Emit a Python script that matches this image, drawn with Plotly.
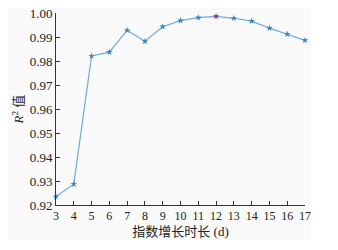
import plotly.graph_objects as go

days = [3, 4, 5, 6, 7, 8, 9, 10, 11, 12, 13, 14, 15, 16, 17]
r2 = [0.9235, 0.9287, 0.9821, 0.9837, 0.9928, 0.9882, 0.9943, 0.9968, 0.9981, 0.9986, 0.9978, 0.9966, 0.9937, 0.9912, 0.9886]
best_idx = 9

x_ticks = list(range(3, 18))
y_ticks = [0.92, 0.93, 0.94, 0.95, 0.96, 0.97, 0.98, 0.99, 1.00]

colors = ["#3b82c4"] * len(days)
colors[best_idx] = "#b0304a"

fig = go.Figure()
fig.add_trace(go.Scatter(
    x=days, y=r2, mode="lines+markers",
    line=dict(color="#6aaee0", width=1.2),
    marker=dict(symbol="star", size=5, color=colors),
    showlegend=False, cliponaxis=False,
))

font_serif = "Liberation Serif"
fig.update_layout(
    width=303, height=232,
    margin=dict(l=48, r=6, t=5, b=35),
    paper_bgcolor="#fafafa",
    plot_bgcolor="#fafafa",
    font=dict(family=font_serif, size=13, color="#222"),
)
fig.update_xaxes(
    range=[3, 17], tickvals=x_ticks, ticktext=[str(v) for v in x_ticks],
    showline=True, linecolor="#333", linewidth=1, showgrid=False, zeroline=False,
    ticks="inside", ticklen=4, tickcolor="#333", automargin=False,
    ticklabeloverflow="allow",
    tickfont=dict(family=font_serif, size=12),
    title=dict(text="<span style='font-family:Noto Sans CJK SC'>指数增长时长</span> (d)",
               font=dict(family=font_serif, size=13), standoff=1),
)
fig.update_yaxes(
    range=[0.92, 1.00], tickvals=y_ticks, ticktext=[f"{v:.2f}" for v in y_ticks],
    showline=True, linecolor="#333", linewidth=1, showgrid=False, zeroline=False,
    ticks="inside", ticklen=4, tickcolor="#333", automargin=False,
    ticklabeloverflow="allow",
    tickfont=dict(family=font_serif, size=13),
    title=dict(text="<i>R</i><sup>2</sup> <span style='font-family:Noto Sans CJK SC'>值</span>",
               font=dict(family=font_serif, size=13), standoff=4),
)
fig.write_html("out.html")
